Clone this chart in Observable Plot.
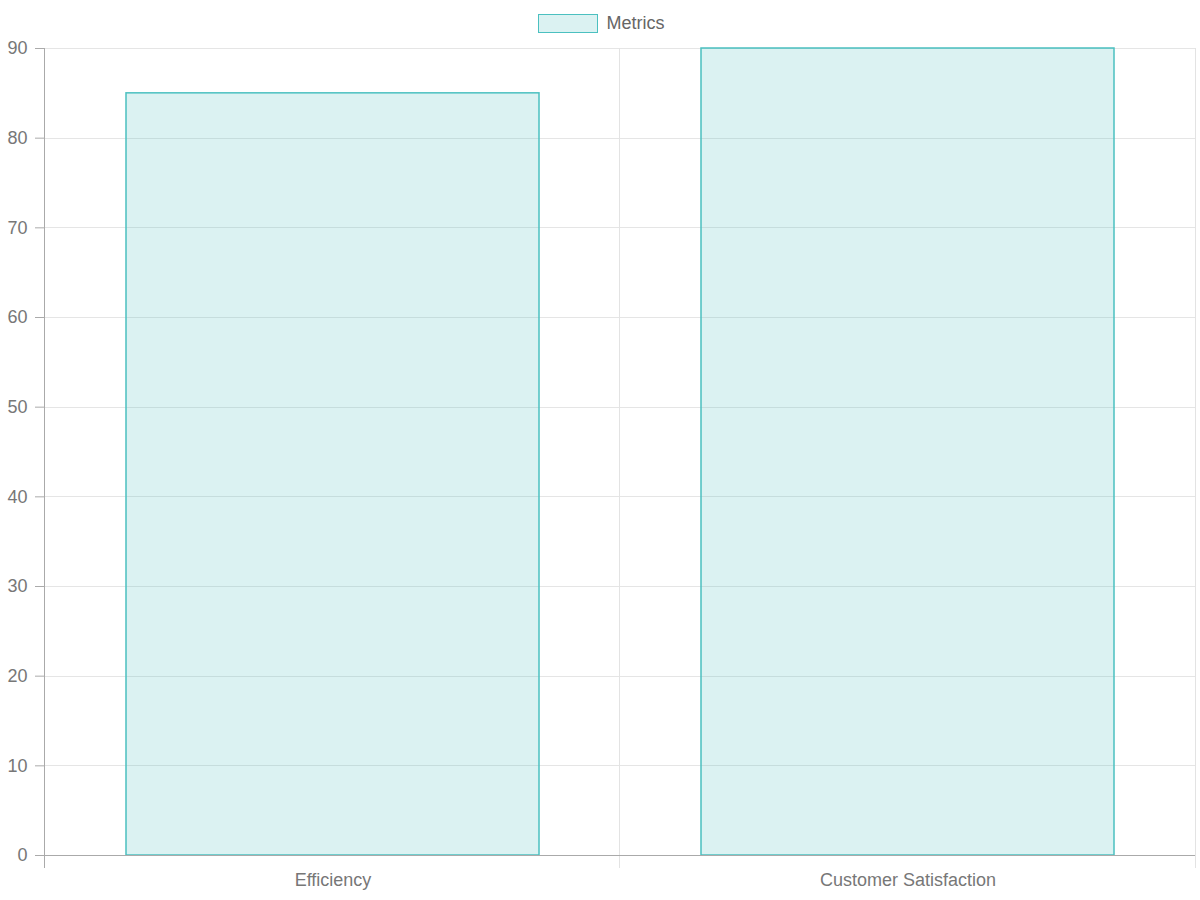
<!DOCTYPE html>
<html>
<head>
<meta charset="utf-8">
<script src="https://cdn.jsdelivr.net/npm/d3@7"></script>
<script src="https://cdn.jsdelivr.net/npm/@observablehq/plot@0.6"></script>
<style>
  html, body { margin: 0; padding: 0; background: #fff; }
  body { width: 1200px; height: 900px; overflow: hidden; font-family: "Liberation Sans", Arial, sans-serif; }
  #legend { height: 30px; display: flex; justify-content: center; align-items: flex-start; color: #666; font-size: 18px; }
  #legend .item { display: flex; align-items: center; margin-top: 14px; margin-left: 2px; height: 19px; }
  #legend .swatch { width: 60px; height: 19px; background: rgba(75,192,192,0.2); border: 1.5px solid rgb(75,192,192); margin-right: 9px; box-sizing: border-box; }
  #chart svg { display: block; }
</style>
</head>
<body>
<div id="legend"><div class="item"><div class="swatch"></div><span id="seriesName"></span></div></div>
<div id="chart"></div>
<script>
const categories = ["Efficiency", "Customer Satisfaction"];
const values = [85, 90];
const seriesName = "Metrics";
const yTicks = [0, 10, 20, 30, 40, 50, 60, 70, 80, 90];

document.getElementById("seriesName").textContent = seriesName;

const data = categories.map((c, i) => ({category: c, value: values[i]}));

const W = 1200, H = 870;
const mL = 44, mR = 5, mT = 18, mB = 45;

// vertical grid at category boundaries, extending below the axis
const bandGrid = (index, scales, vals, dims) => {
  const g = d3.create("svg:g");
  const n = categories.length;
  const step = (dims.width - dims.marginLeft - dims.marginRight) / n;
  const y0 = scales.y(yTicks[yTicks.length - 1]);
  const y1 = scales.y(0) + 13;
  for (let i = 0; i <= n; i++) {
    const x = dims.marginLeft + i * step;
    g.append("line")
      .attr("x1", x).attr("x2", x).attr("y1", y0).attr("y2", y1)
      .attr("stroke", i === 0 ? "#aaa" : "#e3e3e3")
      .attr("stroke-width", 1)
      .attr("shape-rendering", "crispEdges");
  }
  return g.node();
};

const chart = Plot.plot({
  width: W,
  height: H,
  marginLeft: mL,
  marginRight: mR,
  marginTop: mT,
  marginBottom: mB,
  style: {fontFamily: "'Liberation Sans', Arial, sans-serif", fontSize: "16px", color: "#666", background: "#fff"},
  x: {domain: categories, padding: 0, label: null},
  y: {domain: [0, 90], label: null},
  marks: [
    Plot.ruleY(yTicks, {stroke: "#e5e5e5", strokeOpacity: 1, shapeRendering: "crispEdges"}),
    bandGrid,
    Plot.barY(data, {x: "category", y: "value", fill: "rgba(75,192,192,0.2)", stroke: "rgb(75,192,192)", strokeWidth: 1.5, insetLeft: 81, insetRight: 81}),
    Plot.ruleY([0], {stroke: "#aaa", shapeRendering: "crispEdges"}),
    Plot.axisY({ticks: yTicks, tickSize: 9, tickPadding: 8, stroke: "#aaa", fill: "#777", fontSize: 18, label: null}),
    Plot.axisX({tickSize: 0, tickPadding: 18, fill: "#777", fontSize: 18, label: null})
  ]
});

document.getElementById("chart").appendChild(chart);
</script>
</body>
</html>
